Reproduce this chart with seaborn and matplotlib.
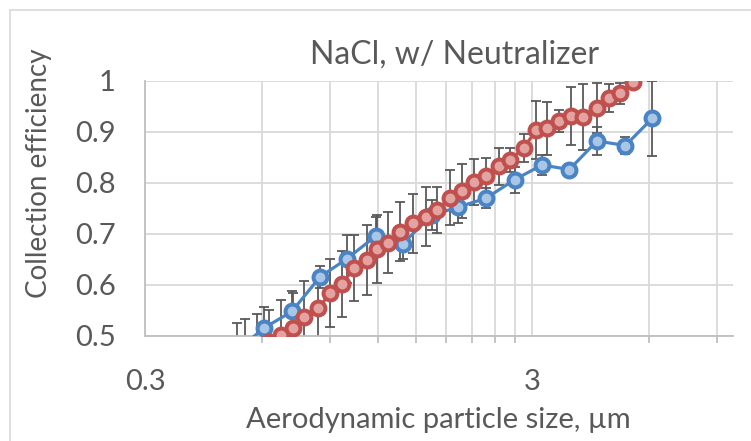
import numpy as np
import pandas as pd
import matplotlib
matplotlib.use('Agg')
import matplotlib.pyplot as plt
import seaborn as sns
from matplotlib.patches import Rectangle
from matplotlib.ticker import FixedLocator, NullFormatter

# blue series
blue_size = [0.518, 0.607, 0.718, 0.850, 0.996, 1.184, 1.390, 1.652, 1.924,
             2.281, 2.700, 3.18, 3.74, 4.41, 5.22, 6.12]
blue_eff = [0.471, 0.515, 0.548, 0.616, 0.651, 0.696, 0.681, 0.737, 0.752,
            0.770, 0.806, 0.835, 0.826, 0.882, 0.873, 0.926]
blue_err = [0.055, 0.041, 0.040, 0.022, 0.047, 0.038, 0.030, 0.030, 0.030,
            0.020, 0.025, 0.020, 0.010, 0.028, 0.016, 0.073]

# red series
red_size = [0.544, 0.583, 0.626, 0.673, 0.725, 0.773, 0.841, 0.902, 0.967,
            1.040, 1.126, 1.195, 1.276, 1.368, 1.480, 1.597, 1.708, 1.842,
            1.975, 2.125, 2.281, 2.455, 2.632, 2.849, 3.072, 3.274, 3.528,
            3.777, 4.056, 4.41, 4.725, 5.064, 5.447]
red_eff = [0.470, 0.478, 0.488, 0.502, 0.515, 0.538, 0.554, 0.584, 0.602,
           0.633, 0.649, 0.670, 0.683, 0.704, 0.721, 0.734, 0.747, 0.771,
           0.784, 0.802, 0.813, 0.832, 0.845, 0.868, 0.903, 0.907, 0.921,
           0.931, 0.929, 0.946, 0.966, 0.975, 0.998]
red_err = [0.063, 0.066, 0.062, 0.068, 0.070, 0.070, 0.070, 0.067, 0.065,
           0.065, 0.068, 0.067, 0.060, 0.058, 0.058, 0.058, 0.045, 0.054,
           0.052, 0.045, 0.035, 0.037, 0.024, 0.028, 0.057, 0.052, 0.022,
           0.057, 0.064, 0.049, 0.028, 0.020, 0.0]

x_major = [0.3, 3]
x_minor = [0.6, 0.9, 1.2, 1.5, 1.8, 2.1, 2.4, 2.7, 6, 9]
y_ticks = [0.5, 0.6, 0.7, 0.8, 0.9, 1.0]
y_labels = ['0.5', '0.6', '0.7', '0.8', '0.9', '1']

BLUE = '#4A84C4'
RED = '#C0504D'
GRID = '#D9D9D9'
TEXT = '#595959'

sns.set_theme(style='white')
plt.rcParams['font.family'] = ['Lato', 'DejaVu Sans']

fig = plt.figure(figsize=(7.51, 4.41), dpi=100)
ax = fig.add_axes([145 / 751, 1 - 336 / 441, (733 - 145) / 751, (336 - 80.7) / 441])

# chart border
fig.patches.append(Rectangle((10 / 751, -0.1), 1.2, (441 - 10) / 441 + 0.1,
                             transform=fig.transFigure, fill=False,
                             edgecolor='#D9D9D9', lw=1.2))

blue_df = pd.DataFrame({'size': blue_size, 'eff': blue_eff})
red_df = pd.DataFrame({'size': red_size, 'eff': red_eff})

ax.errorbar(blue_size, blue_eff, yerr=blue_err, fmt='none', ecolor='#595959',
            elinewidth=1.3, capsize=3.5, capthick=1.3, zorder=2)
ax.errorbar(red_size, red_eff, yerr=red_err, fmt='none', ecolor='#595959',
            elinewidth=1.3, capsize=3.5, capthick=1.3, zorder=2)

sns.lineplot(data=blue_df, x='size', y='eff', ax=ax, sort=False, color=BLUE,
             lw=2.3, marker='o', ms=10, mec=BLUE, mfc='#A9C6E6', mew=2.9,
             zorder=3)
sns.lineplot(data=red_df, x='size', y='eff', ax=ax, sort=False, color=RED,
             lw=2.3, marker='o', ms=10, mec=RED, mfc='#E3A3A1', mew=2.9,
             zorder=4)

ax.set_xscale('log')
ax.set_xlim(0.3, 9.9)
ax.set_ylim(0.5, 1.0)
ax.xaxis.set_major_locator(FixedLocator(x_major))
ax.set_xticklabels(['0.3', '3'])
ax.xaxis.set_minor_locator(FixedLocator(x_minor))
ax.xaxis.set_minor_formatter(NullFormatter())
ax.set_yticks(y_ticks)
ax.set_yticklabels(y_labels)
ax.set_xlabel('')
ax.set_ylabel('')

ax.grid(True, which='both', axis='x', color=GRID, lw=1.3)
ax.grid(True, which='major', axis='y', color=GRID, lw=1.3)
ax.set_axisbelow(True)

for side in ['top', 'right']:
    ax.spines[side].set_visible(False)
ax.spines['left'].set_color('#BFBFBF')
ax.spines['bottom'].set_color('#BFBFBF')
ax.spines['left'].set_linewidth(1.3)
ax.spines['bottom'].set_linewidth(1.3)

ax.tick_params(axis='x', which='major', length=0, pad=24, labelsize=21,
               labelcolor=TEXT)
ax.tick_params(axis='x', which='minor', bottom=True, length=5, width=1.3,
               color='#BFBFBF', direction='out')
ax.tick_params(axis='y', length=0, pad=21, labelsize=21, labelcolor=TEXT)

fig.text(438 / 751, 1 - 420 / 441, 'Aerodynamic particle size, µm',
         fontsize=21, color=TEXT, ha='center', va='center')
fig.text(39 / 751, 1 - 173 / 441, 'Collection efficiency', fontsize=20,
         color=TEXT, ha='center', va='center', rotation=90)
fig.text(455 / 751, 1 - 55 / 441, 'NaCl, w/ Neutralizer', fontsize=23,
         color=TEXT, ha='center', va='center')

fig.savefig('out.png', dpi=100)
